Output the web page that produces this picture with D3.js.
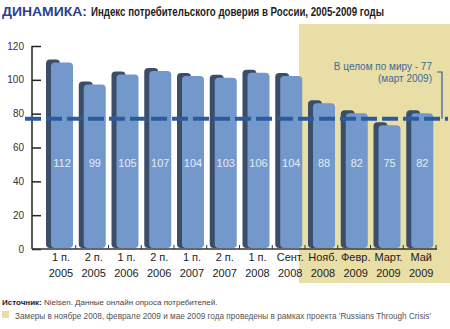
<!DOCTYPE html>
<html><head><meta charset="utf-8">
<script src="https://cdn.jsdelivr.net/npm/d3@7"></script>
<style>body{margin:0;background:#fff}svg{display:block}</style>
</head><body>
<script>
const categories = [["1 п.","2005"],["2 п.","2005"],["1 п.","2006"],["2 п.","2006"],["1 п.","2007"],["2 п.","2007"],["1 п.","2008"],["Сент.","2008"],["Нояб.","2008"],["Февр.","2009"],["Март.","2009"],["Май","2009"]];
const values = [112, 99, 105, 107, 104, 103, 106, 104, 88, 82, 75, 82];
const yTicks = [0, 20, 40, 60, 80, 100, 120];
const worldValue = 77;
const highlightFrom = 8;

const W = 450, H = 329;
const svg = d3.select("body").append("svg").attr("width", W).attr("height", H);
const font = "'Liberation Sans', Arial, sans-serif";

// squeeze a text horizontally to a target width, keeping its height
function squeeze(sel, x0, target) {
  const len = sel.node().getComputedTextLength();
  const s = len > 0 ? target / len : 1;
  sel.attr("x", 0).attr("transform", `translate(${x0},0) scale(${s.toFixed(4)},1)`);
}

const x = d3.scaleBand().domain(d3.range(categories.length)).range([43, 436]).padding(0);
const y = d3.scaleLinear().domain([0, 120]).range([249, 46]);

// highlight area
svg.append("rect").attr("x", x(highlightFrom) - 6).attr("y", 24)
  .attr("width", W - (x(highlightFrom) - 6)).attr("height", 259).attr("fill", "#e9dea6");

// title
const t1 = svg.append("text").attr("y", 16).attr("font-family", font)
  .attr("font-weight", "bold").attr("font-size", 13.5).attr("fill", "#2b3f8c").text("ДИНАМИКА:");
squeeze(t1, 2, 85);
const t2 = svg.append("text").attr("y", 16).attr("font-family", font)
  .attr("font-weight", "bold").attr("font-size", 13.5).attr("fill", "#1e1e1e")
  .text("Индекс потребительского доверия в России, 2005-2009 годы");
squeeze(t2, 91, 293);

// y axis
const yAxis = d3.axisRight(y).tickValues(yTicks).tickSize(9).tickFormat("");
const ga = svg.append("g").attr("transform", "translate(32,0)").call(yAxis);
ga.select(".domain").attr("stroke", "#222").attr("stroke-width", 1.5).attr("d", `M0,${y(120)}V${y(0)}`);
ga.selectAll(".tick line").attr("stroke", "#222").attr("stroke-width", 1.5);
svg.append("g").selectAll("text").data(yTicks).join("text")
  .attr("x", 24).attr("y", d => y(d) + 3.5).attr("text-anchor", "end")
  .attr("font-family", font).attr("font-size", 10).attr("fill", "#333").text(d => d);

// bars
const bw = x.bandwidth();
const bars = svg.append("g").selectAll("g").data(values).join("g");
bars.append("rect")
  .attr("x", (d, i) => x(i) + 3).attr("y", d => y(d))
  .attr("width", 14).attr("height", d => y(0) - y(d) - 1)
  .attr("rx", 4).attr("fill", "#3c4d69");
bars.append("rect")
  .attr("x", (d, i) => x(i) + 8).attr("y", d => y(d) + 3)
  .attr("width", 22).attr("height", d => y(0) - y(d) - 4)
  .attr("rx", 4).attr("fill", "#7398cc");
bars.append("text")
  .attr("x", (d, i) => x(i) + 19).attr("y", 167).attr("text-anchor", "middle")
  .attr("font-family", font).attr("font-size", 11).attr("fill", "#e4ecf6").text(d => d);

// baseline
svg.append("line").attr("x1", 32).attr("x2", 437).attr("y1", y(0)).attr("y2", y(0))
  .attr("stroke", "#333").attr("stroke-width", 1.5);
svg.append("g").selectAll("line").data(d3.range(1, categories.length + 1)).join("line")
  .attr("x1", i => x(i - 1) + bw).attr("x2", i => x(i - 1) + bw)
  .attr("y1", y(0)).attr("y2", y(0) - 4).attr("stroke", "#333").attr("stroke-width", 1);

// x labels
const xl = svg.append("g").selectAll("text").data(categories).join("text")
  .attr("text-anchor", "middle").attr("font-family", font).attr("font-size", 11).attr("fill", "#222");
xl.append("tspan").attr("x", (d, i) => x(i) + 18).attr("y", 261).text(d => d[0]);
xl.append("tspan").attr("x", (d, i) => x(i) + 18).attr("y", 277).text(d => d[1]);

// world line
svg.append("line").attr("x1", 25).attr("x2", 448).attr("y1", y(worldValue)).attr("y2", y(worldValue))
  .attr("stroke", "#2d5c9c").attr("stroke-width", 4).attr("stroke-dasharray", "16,5");
svg.append("path").attr("d", `M437,${72}H442V${y(worldValue)}`).attr("fill", "none")
  .attr("stroke", "#2d5c9c").attr("stroke-width", 1.2);
svg.append("text").attr("x", 432).attr("y", 70).attr("text-anchor", "end")
  .attr("font-family", font).attr("font-size", 10).attr("fill", "#3a6a9c").text("В целом по миру  - " + worldValue);
svg.append("text").attr("x", 432).attr("y", 82).attr("text-anchor", "end")
  .attr("font-family", font).attr("font-size", 10).attr("fill", "#3a6a9c").text("(март 2009)");

// footer
const f1 = svg.append("text").attr("x", 2).attr("y", 305).attr("font-family", font).attr("font-size", 8).attr("fill", "#444");
f1.append("tspan").attr("font-weight", "bold").attr("fill", "#222").text("Источник:");
f1.append("tspan").text(" Nielsen. Данные онлайн опроса потребителей.");
svg.append("rect").attr("x", 2).attr("y", 311).attr("width", 7).attr("height", 7).attr("fill", "#e9dea6");
svg.append("text").attr("x", 15).attr("y", 319).attr("font-family", font).attr("font-size", 8.2).attr("fill", "#555")
  .text("Замеры в ноябре 2008, феврале 2009 и мае 2009 года проведены в рамках проекта 'Russians Through Crisis'");
</script>
</body></html>
